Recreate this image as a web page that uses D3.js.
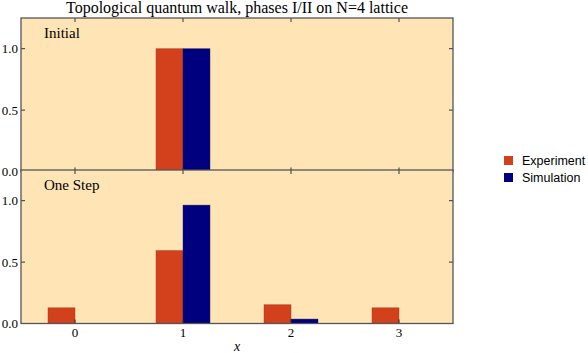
<!DOCTYPE html>
<html>
<head>
<meta charset="utf-8">
<script src="https://cdn.jsdelivr.net/npm/d3@7"></script>
<style>
  body { margin: 0; background: #fff; }
  svg { display: block; }
</style>
</head>
<body>
<div class="chart"></div>
<script>
// data
var sites = [0, 1, 2, 3];
var panelNames = ["Initial", "One Step"];
var experimentInitial = [0, 1.0, 0, 0];
var simulationInitial = [0, 1.0, 0, 0];
var experimentStep = [0.128, 0.594, 0.153, 0.128];
var simulationStep = [0, 0.964, 0.036, 0];
var yTicks = [0, 0.5, 1.0];
var seriesNames = ["Experiment", "Simulation"];
var seriesColors = ["#d2401c", "#00007f"];

var W = 588, H = 353;
var left = 21, right = 453;
var panelTops = [18, 170], panelH = 153.5;
var serif = "'Liberation Serif', 'Times New Roman', serif";

var svg = d3.select(".chart").append("svg")
    .attr("width", W)
    .attr("height", H);

var x = d3.scaleLinear().domain([-0.5, 3.5]).range([left, right]);
var bw = x(0.25) - x(0);

svg.append("text")
    .attr("x", (left + right) / 2)
    .attr("y", 12.5)
    .attr("text-anchor", "middle")
    .style("font-family", serif)
    .style("font-size", "16px")
    .text("Topological quantum walk, phases I/II on N=4 lattice");

var panels = [
  {name: panelNames[0], exp: experimentInitial, sim: simulationInitial},
  {name: panelNames[1], exp: experimentStep, sim: simulationStep}
];

panels.forEach(function(p, i) {
  var top = panelTops[i], bottom = top + panelH;
  var y = d3.scaleLinear().domain([0, 1.25]).range([bottom, top]);
  var g = svg.append("g");

  g.append("rect")
      .attr("x", left).attr("y", top)
      .attr("width", right - left).attr("height", panelH)
      .attr("fill", "#ffe4b5");

  [p.exp, p.sim].forEach(function(vals, s) {
    g.selectAll(".bar" + s)
      .data(sites.filter(function(d, k) { return vals[k] > 0; }))
      .enter().append("rect")
        .attr("x", function(d) { return s === 0 ? x(d) - bw : x(d); })
        .attr("y", function(d) { return y(vals[d]); })
        .attr("width", bw)
        .attr("height", function(d) { return y(0) - y(vals[d]); })
        .attr("fill", seriesColors[s])
        .attr("stroke", s === 0 ? "#9a3a20" : "#1a1a60")
        .attr("stroke-opacity", 0.6)
        .attr("stroke-width", 0.7);
  });

  // ticks, pointing inward
  var tk = g.append("g").attr("stroke", "#333").attr("stroke-width", 1);
  sites.forEach(function(d) {
    tk.append("line").attr("x1", x(d)).attr("x2", x(d)).attr("y1", bottom).attr("y2", bottom - 4);
    tk.append("line").attr("x1", x(d)).attr("x2", x(d)).attr("y1", top).attr("y2", top + 4);
  });
  yTicks.forEach(function(t) {
    tk.append("line").attr("x1", left).attr("x2", left + 4).attr("y1", y(t)).attr("y2", y(t));
    tk.append("line").attr("x1", right).attr("x2", right - 4).attr("y1", y(t)).attr("y2", y(t));
  });

  g.append("rect")
      .attr("x", left).attr("y", top)
      .attr("width", right - left).attr("height", panelH)
      .attr("fill", "none")
      .attr("stroke", "#555")
      .attr("stroke-width", 1.3);

  g.selectAll(".ylab")
    .data(yTicks)
    .enter().append("text")
      .attr("x", left - 3)
      .attr("y", function(t) { return y(t) + 4.5; })
      .attr("text-anchor", "end")
      .style("font-family", serif)
      .style("font-size", "13px")
      .text(function(t) { return d3.format(".1f")(t); });

  g.append("text")
      .attr("x", 44)
      .attr("y", top + 20)
      .style("font-family", serif)
      .style("font-size", "15px")
      .text(p.name);
});

var bottomY = panelTops[1] + panelH;
svg.selectAll(".xlab")
  .data(sites)
  .enter().append("text")
    .attr("x", function(d) { return x(d); })
    .attr("y", bottomY + 13.5)
    .attr("text-anchor", "middle")
    .style("font-family", serif)
    .style("font-size", "13px")
    .text(function(d) { return d; });

svg.append("text")
    .attr("x", (left + right) / 2)
    .attr("y", 351)
    .attr("text-anchor", "middle")
    .style("font-family", serif)
    .style("font-style", "italic")
    .style("font-size", "14px")
    .text("x");

var legend = svg.append("g");
seriesNames.forEach(function(n, i) {
  legend.append("rect")
      .attr("x", 504).attr("y", 156 + i * 17)
      .attr("width", 9).attr("height", 9)
      .attr("fill", seriesColors[i]);
  legend.append("text")
      .attr("x", 522).attr("y", 164.5 + i * 17)
      .style("font-family", "'Liberation Sans', Arial, sans-serif")
      .style("font-size", "12.5px")
      .text(n);
});
</script>
</body>
</html>
